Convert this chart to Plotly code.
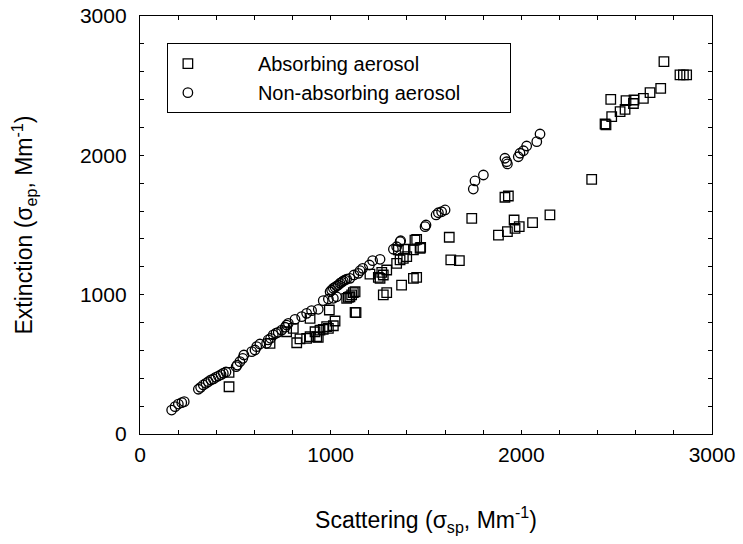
import plotly.graph_objects as go

# Absorbing aerosol (squares): scattering, extinction (Mm^-1)
abs_x = [467, 467, 682, 769, 804, 822, 839, 874, 892, 892, 918, 927, 935, 944, 961, 979, 988, 993,
         1014, 1023, 1084, 1093, 1101, 1110, 1119, 1128, 1128, 1133, 1206, 1250, 1259, 1268, 1276,
         1276, 1294, 1294, 1346, 1355, 1364, 1372, 1381, 1390, 1399, 1434, 1434, 1442, 1451, 1451,
         1469, 1472, 1622, 1630, 1675, 1740, 1880, 1914, 1932, 1927, 1962, 1967, 1989, 2059, 2150,
         2369, 2439, 2444, 2474, 2518, 2544, 2549, 2588, 2591, 2469, 2640, 2675, 2731, 2748, 2832,
         2850, 2867]
abs_y = [339, 443, 651, 734, 758, 655, 682, 687, 698, 830, 734, 698, 694, 746, 751, 770, 758, 890,
         777, 811, 974, 981, 985, 998, 1014, 1021, 873, 871, 1148, 1124, 1117, 1160, 998,
         1141, 1014, 1177, 1225, 1321, 1249, 1069, 1261, 1326, 1273, 1117, 1321, 1392, 1124, 1397,
         1333, 1340, 1412, 1249, 1244, 1548, 1428, 1699, 1708, 1452, 1536, 1476, 1488, 1517, 1572,
         1828, 2225, 2218, 2278, 2313, 2330, 2392, 2372, 2397, 2402, 2409, 2450, 2481, 2672, 2577,
         2577, 2577]

# Non-absorbing aerosol (circles)
non_x = [166, 184, 201, 219, 232, 306, 318, 332, 346, 358, 372, 385, 397, 411, 425, 437, 451,
         504, 510, 524, 539, 545, 586, 603, 612, 629, 664, 672, 685, 699, 713, 725, 743, 761, 769,
         778, 813, 848, 874, 900, 935, 961, 988, 1014, 1031, 997, 1005, 1014, 1023, 1031, 1040,
         1049, 1058, 1066, 1075, 1084, 1101, 1122, 1145, 1154, 1168, 1203, 1220, 1259, 1329, 1346,
         1367, 1364, 1495, 1500, 1553, 1565, 1582, 1600, 1748, 1757, 1801, 1914, 1923, 1927, 1984,
         1993, 2011, 2028, 2081, 2098]
non_y = [172, 196, 215, 225, 232, 321, 335, 352, 364, 375, 388, 395, 407, 416, 426, 436, 445,
         483, 495, 519, 543, 567, 591, 603, 627, 646, 651, 675, 687, 711, 723, 730, 746, 766, 782,
         794, 823, 842, 866, 885, 895, 957, 969, 974, 985, 1021, 1033, 1046, 1053, 1062, 1069,
         1082, 1089, 1098, 1105, 1112, 1117, 1141, 1153, 1172, 1189, 1213, 1244, 1254, 1326, 1344,
         1387, 1380, 1488, 1500, 1572, 1588, 1595, 1608, 1758, 1816, 1859, 1979, 1954, 1938, 1990,
         2015, 2033, 2067, 2098, 2153]

tick_vals = list(range(0, 3001, 200))
tick_text = [str(v) if v % 1000 == 0 else "" for v in tick_vals]

FONT = "Liberation Sans, Arial, Helvetica, sans-serif"
NB = "\u00a0"

fig = go.Figure()
fig.add_trace(go.Scatter(
    x=abs_x, y=abs_y, mode="markers", name=NB * 9 + "Absorbing aerosol",
    marker=dict(symbol="square-open", size=9.5, color="black", line=dict(width=1.3, color="black")),
))
fig.add_trace(go.Scatter(
    x=non_x, y=non_y, mode="markers", name=NB * 9 + "Non-absorbing aerosol" + NB * 8,
    marker=dict(symbol="circle-open", size=9.5, color="black", line=dict(width=1.3, color="black")),
))

axis_common = dict(
    tickvals=tick_vals, ticktext=tick_text, ticks="inside", ticklen=4, tickwidth=1,
    tickcolor="black", showline=True, linecolor="black", linewidth=1.3, mirror="allticks",
    showgrid=False, zeroline=False, tickfont=dict(family=FONT, size=21, color="black"),
)

fig.update_xaxes(range=[0, 3000], **axis_common, ticklabelstandoff=2,
                 title=dict(text="Scattering (σ<sub>sp</sub>, Mm<sup>-1</sup>)",
                            font=dict(family=FONT, size=23, color="black"), standoff=46))
fig.update_yaxes(range=[0, 3000], **axis_common, ticklabelstandoff=8,
                 title=dict(text="Extinction (σ<sub>ep</sub>, Mm<sup>-1</sup>)",
                            font=dict(family=FONT, size=23, color="black"), standoff=40))

fig.update_layout(
    width=743, height=544,
    margin=dict(l=140, r=31, t=16, b=110, autoexpand=False),
    plot_bgcolor="white", paper_bgcolor="white",
    showlegend=True,
    legend=dict(x=0.047, y=0.935, xanchor="left", yanchor="top",
                bordercolor="black", borderwidth=1, bgcolor="white",
                font=dict(family=FONT, size=20, color="black"),
                itemwidth=30, tracegroupgap=0),
)

fig.write_html("out.html")
